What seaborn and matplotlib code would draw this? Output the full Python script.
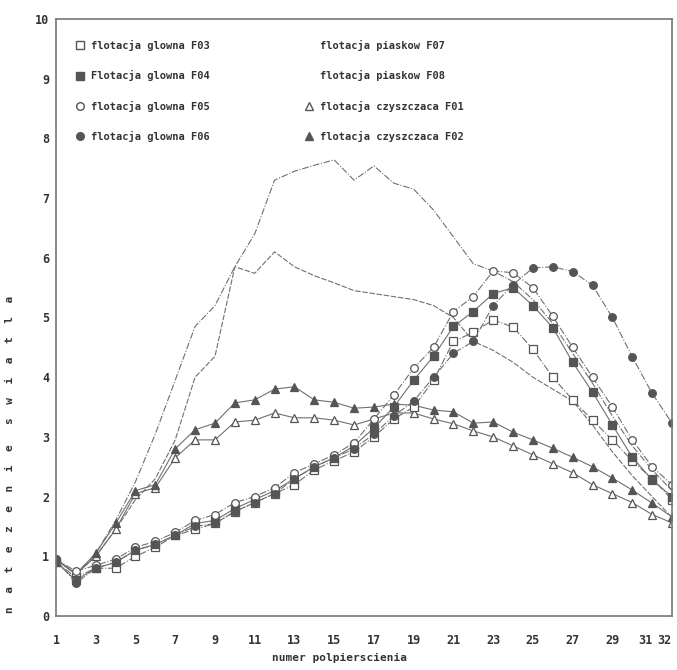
import matplotlib.pyplot as plt
import pandas as pd
import seaborn as sns
from matplotlib.lines import Line2D

sns.set_style("white")
plt.rcParams['font.family'] = ['DejaVu Sans Mono']

# numer polpierscienia 1..32
rings = list(range(1, 33))

f03 = [0.90, 0.65, 0.80, 0.80, 1.00, 1.15, 1.35, 1.45, 1.55, 1.75, 1.90, 2.05, 2.20, 2.45, 2.60, 2.75,
       3.00, 3.30, 3.50, 3.95, 4.60, 4.75, 4.96, 4.84, 4.47, 4.00, 3.62, 3.28, 2.95, 2.60, 2.30, 1.95]
f04 = [0.90, 0.60, 0.80, 0.90, 1.10, 1.20, 1.35, 1.55, 1.60, 1.80, 1.95, 2.10, 2.30, 2.50, 2.65, 2.85,
       3.15, 3.50, 3.95, 4.35, 4.85, 5.10, 5.40, 5.50, 5.20, 4.83, 4.25, 3.75, 3.20, 2.66, 2.28, 2.00]
f05 = [0.95, 0.75, 0.85, 0.95, 1.15, 1.25, 1.40, 1.60, 1.70, 1.90, 2.00, 2.15, 2.40, 2.55, 2.70, 2.90,
       3.30, 3.70, 4.15, 4.50, 5.10, 5.35, 5.78, 5.75, 5.50, 5.02, 4.50, 4.00, 3.50, 2.95, 2.50, 2.20]
f06 = [0.95, 0.55, 0.80, 0.90, 1.10, 1.20, 1.35, 1.50, 1.55, 1.75, 1.90, 2.05, 2.30, 2.50, 2.65, 2.80,
       3.05, 3.35, 3.60, 4.00, 4.40, 4.60, 5.20, 5.55, 5.83, 5.85, 5.77, 5.54, 5.00, 4.34, 3.73, 3.23]
f07 = [0.95, 0.70, 1.05, 1.60, 2.25, 3.05, 3.95, 4.85, 5.20, 5.85, 6.40, 7.30, 7.45, 7.55, 7.64, 7.30,
       7.54, 7.25, 7.15, 6.80, 6.35, 5.90, 5.78, 5.60, 5.30, 4.90, 4.40, 3.90, 3.35, 2.85, 2.45, 2.10]
f08 = [0.95, 0.70, 1.00, 1.45, 1.95, 2.30, 2.95, 4.00, 4.35, 5.85, 5.74, 6.10, 5.85, 5.70, 5.58, 5.45,
       5.40, 5.35, 5.30, 5.20, 5.00, 4.60, 4.45, 4.25, 4.00, 3.80, 3.60, 3.20, 2.75, 2.35, 2.00, 1.65]
f01 = [0.95, 0.70, 1.00, 1.45, 2.05, 2.15, 2.65, 2.95, 2.95, 3.25, 3.28, 3.40, 3.32, 3.32, 3.28, 3.20,
       3.30, 3.40, 3.40, 3.30, 3.22, 3.10, 3.00, 2.85, 2.70, 2.55, 2.40, 2.20, 2.05, 1.90, 1.70, 1.56]
f02 = [0.95, 0.70, 1.05, 1.55, 2.10, 2.20, 2.80, 3.12, 3.23, 3.57, 3.62, 3.80, 3.84, 3.62, 3.58, 3.48,
       3.50, 3.55, 3.53, 3.45, 3.42, 3.23, 3.25, 3.08, 2.95, 2.81, 2.66, 2.50, 2.31, 2.11, 1.89, 1.66]

labels = {
    "F03": "flotacja glowna F03",
    "F04": "Flotacja glowna F04",
    "F05": "flotacja glowna F05",
    "F06": "flotacja glowna F06",
    "F07": "flotacja piaskow F07",
    "F08": "flotacja piaskow F08",
    "F01": "flotacja czyszczaca F01",
    "F02": "flotacja czyszczaca F02",
}

df = pd.DataFrame({"ring": rings, "F03": f03, "F04": f04, "F05": f05, "F06": f06,
                   "F07": f07, "F08": f08, "F01": f01, "F02": f02})
long = df.melt(id_vars="ring", var_name="seria", value_name="natezenie")

ink = "#555555"
line_c = "#707070"
txt_c = "#333333"
# marker, filled, linestyle
styles = {
    "F07": (None, False, (0, (6, 1.5, 1, 1.5))),
    "F08": (None, False, (0, (5, 1.5))),
    "F01": ("^", False, "-"),
    "F02": ("^", True, "-"),
    "F03": ("s", False, "-."),
    "F04": ("s", True, "-"),
    "F05": ("o", False, "-."),
    "F06": ("o", True, "-."),
}

fig = plt.figure(figsize=(6.77, 6.70), dpi=100)
ax = fig.add_axes([56 / 677, 1 - 616 / 670, 616 / 677, 597 / 670])

for key, (mk, filled, ls) in styles.items():
    sub = long[long["seria"] == key]
    kw = dict(color=line_c, linewidth=0.8, linestyle=ls)
    if mk is not None:
        kw.update(marker=mk, markersize=5.5, markeredgecolor=ink, markeredgewidth=0.9,
                  markerfacecolor=ink if filled else "white")
    sns.lineplot(data=sub, x="ring", y="natezenie", ax=ax, legend=False, **kw)

ax.set_xlim(1, 32)
ax.set_ylim(0, 10)
xt = list(range(1, 32, 2)) + [32]
ax.set_xticks(xt)
ax.set_xticklabels([str(v) for v in xt], fontsize=8.5, fontweight="bold", color=txt_c)
# "31" and "32" sit side by side in the original
xl = ax.get_xticklabels()
xl[-1].set_horizontalalignment("right")
xl[-2].set_horizontalalignment("right")
ax.set_yticks(range(0, 11))
ax.set_yticklabels([str(v) for v in range(0, 11)], fontsize=8.5, fontweight="bold", color=txt_c)
ax.tick_params(axis="both", direction="out", length=3, width=0.8, color="#777777", pad=2)
ax.tick_params(axis="x", pad=10)
for sp in ax.spines.values():
    sp.set_color("#777777")
    sp.set_linewidth(1.2)
ax.set_xlabel("numer polpierscienia", fontsize=8, fontweight="bold", color=txt_c)
ax.xaxis.set_label_coords(0.46, -0.062)
ax.set_ylabel("")
ylab = "   ".join(["  ".join(list(w)) for w in ["natezenie", "swiatla"]])
ax.text(-0.075, 0.27, ylab, transform=ax.transAxes, rotation=90, va="center", ha="center",
        fontsize=8, fontweight="bold", color=txt_c)

# legend: two columns, markers only
order = ["F03", "F04", "F05", "F06", "F07", "F08", "F01", "F02"]
handles = []
for key in order:
    mk, filled, _ = styles[key]
    handles.append(Line2D([], [], linestyle="none", marker=mk if mk else "",
                          markersize=5.5, color=ink, markeredgecolor=ink,
                          markerfacecolor=ink if filled else "white"))
leg = ax.legend(handles, [labels[k] for k in order], ncol=2, loc="upper left",
                bbox_to_anchor=(0.03, 0.965), frameon=False, handlelength=1.0,
                handletextpad=0.6, columnspacing=9.0, labelspacing=1.85,
                borderpad=0, borderaxespad=0,
                prop={"family": "DejaVu Sans Mono", "weight": "bold", "size": 7.5})
for t in leg.get_texts():
    t.set_color(txt_c)

fig.savefig("out.png", dpi=100, facecolor="white")
